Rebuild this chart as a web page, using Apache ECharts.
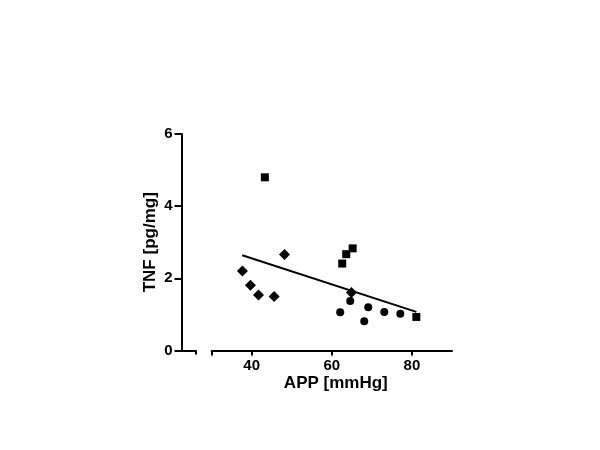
<!DOCTYPE html>
<html>
<head>
<meta charset="utf-8">
<script src="https://cdn.jsdelivr.net/npm/echarts@6/dist/echarts.min.js"></script>
<style>
html,body{margin:0;padding:0;background:#fff;}
#chart{width:600px;height:450px;}
</style>
</head>
<body>
<div id="chart"></div>
<script>
// Data
var squaresX = [43.3, 62.6, 63.6, 65.2, 81.1];
var squaresY = [4.80, 2.41, 2.67, 2.83, 0.93];
var diamondsX = [37.7, 39.7, 41.7, 45.6, 48.2, 64.9];
var diamondsY = [2.20, 1.81, 1.54, 1.50, 2.66, 1.61];
var circlesX = [62.1, 64.6, 68.1, 69.1, 73.1, 77.1];
var circlesY = [1.06, 1.37, 0.81, 1.20, 1.07, 1.02];
var fitX = [37.65, 81.1];
var fitY = [2.64, 1.07];
var xTickValues = [30, 40, 60, 80];
var xLabelValues = [40, 60, 80];
var xTitle = 'APP [mmHg]';
var yTitle = 'TNF [pg/mg]';

function pairs(xs, ys) { return xs.map(function (x, i) { return [x, ys[i]]; }); }

var font = 'Liberation Sans, Arial, sans-serif';
var chart = echarts.init(document.getElementById('chart'), null, {renderer: 'canvas'});
chart.setOption({
  backgroundColor: '#fff',
  animation: false,
  grid: [
    {left: 211.6, right: 148, top: 134, bottom: 99.5},
    {left: 181.5, width: 14.5, top: 134, bottom: 99.5}
  ],
  xAxis: [
    {
      type: 'value', gridIndex: 0, min: 30, max: 90,
      name: xTitle, nameLocation: 'middle', nameGap: 23,
      nameTextStyle: {fontFamily: font, fontWeight: 'bold', fontSize: 17, color: '#000', padding: [0, 0, 0, 8]},
      axisLine: {show: true, onZero: false, lineStyle: {color: '#000', width: 2}},
      axisTick: {show: true, length: 5, customValues: xTickValues, lineStyle: {color: '#000', width: 2}},
      axisLabel: {show: true, margin: 8, customValues: xLabelValues, fontFamily: font, fontWeight: 'bold', fontSize: 15, color: '#000'},
      splitLine: {show: false}
    },
    {
      type: 'value', gridIndex: 1, min: 0, max: 1,
      axisLine: {show: true, onZero: false, lineStyle: {color: '#000', width: 2}},
      axisTick: {show: true, length: 4, customValues: [1], lineStyle: {color: '#000', width: 2}},
      axisLabel: {show: false},
      splitLine: {show: false}
    }
  ],
  yAxis: [
    {
      type: 'value', gridIndex: 0, min: 0, max: 6, interval: 2, offset: 30.1,
      name: yTitle, nameLocation: 'middle', nameGap: 23,
      nameTextStyle: {fontFamily: font, fontWeight: 'bold', fontSize: 17, color: '#000'},
      axisLine: {show: true, onZero: false, lineStyle: {color: '#000', width: 2}},
      axisTick: {show: true, length: 7, lineStyle: {color: '#000', width: 2}},
      axisLabel: {show: true, margin: 9, fontFamily: font, fontWeight: 'bold', fontSize: 15, color: '#000'},
      splitLine: {show: false}
    },
    {type: 'value', gridIndex: 1, min: 0, max: 6, show: false}
  ],
  series: [
    {type: 'line', xAxisIndex: 0, yAxisIndex: 0, data: pairs(fitX, fitY), symbol: 'none',
     lineStyle: {color: '#000', width: 2}, z: 1},
    {type: 'scatter', xAxisIndex: 0, yAxisIndex: 0, data: pairs(squaresX, squaresY), symbol: 'rect', symbolSize: 8,
     itemStyle: {color: '#000', opacity: 1}, z: 2},
    {type: 'scatter', xAxisIndex: 0, yAxisIndex: 0, data: pairs(diamondsX, diamondsY), symbol: 'diamond', symbolSize: 11,
     itemStyle: {color: '#000', opacity: 1}, z: 2},
    {type: 'scatter', xAxisIndex: 0, yAxisIndex: 0, data: pairs(circlesX, circlesY), symbol: 'circle', symbolSize: 8,
     itemStyle: {color: '#000', opacity: 1}, z: 2}
  ]
});
</script>
</body>
</html>
